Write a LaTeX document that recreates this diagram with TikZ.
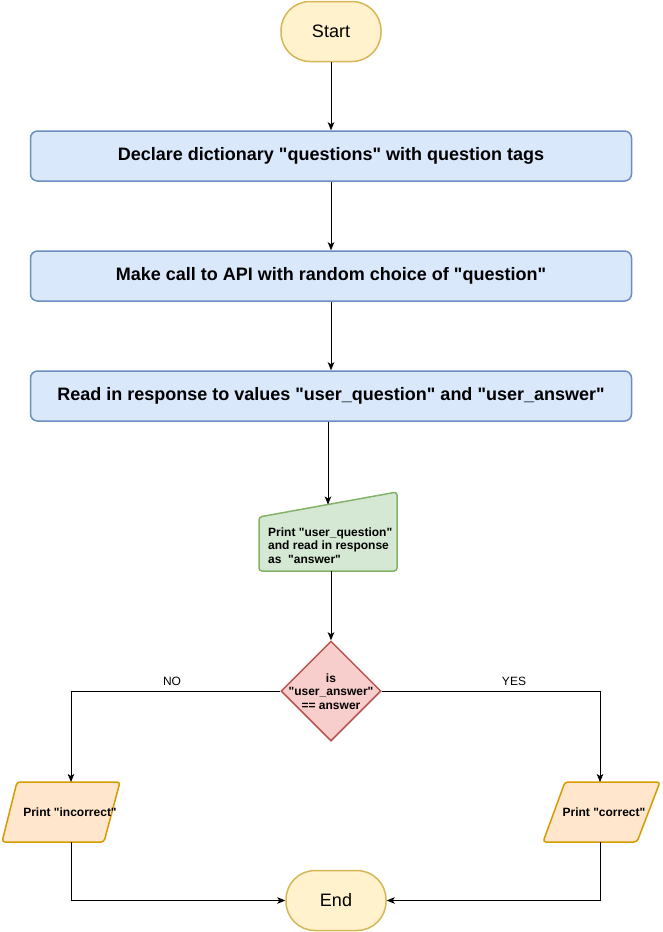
\documentclass[tikz,border=0pt]{standalone}
\usepackage{fontspec}
\setmainfont{Liberation Sans}[Ligatures=TeXOff]
\usetikzlibrary{arrows.meta,shapes.geometric}
\definecolor{yfill}{HTML}{FFF2CC}\definecolor{ydraw}{HTML}{D6B656}
\definecolor{bfill}{HTML}{DAE8FC}\definecolor{bdraw}{HTML}{6C8EBF}
\definecolor{gfill}{HTML}{D5E8D4}\definecolor{gdraw}{HTML}{82B366}
\definecolor{rfill}{HTML}{F8CECC}\definecolor{rdraw}{HTML}{B85450}
\definecolor{ofill}{HTML}{FFE6CC}\definecolor{odraw}{HTML}{D79B00}
\begin{document}
\begin{tikzpicture}[x=1pt,y=-1pt,
  term/.style={rectangle, rounded corners=29pt, minimum width=100pt, minimum height=60pt,
    fill=yfill, draw=ydraw, line width=1.5pt, inner sep=0pt, font=\fontsize{18}{21}\selectfont},
  procbox/.style={rectangle, rounded corners=7pt, minimum width=601pt, minimum height=50pt,
    fill=bfill, draw=bdraw, line width=1.5pt, inner sep=0pt, font=\fontsize{18}{21}\selectfont\bfseries},
  smalltxt/.style={inner sep=0pt, font=\fontsize{12}{13.4}\selectfont\bfseries},
  lbl/.style={inner sep=0pt, font=\fontsize{12}{14}\selectfont},
  conn/.style={draw=black, line width=0.9pt, -{Stealth[length=8pt,width=6.5pt,inset=2pt]}}]
\useasboundingbox (0,0) rectangle (662,932);

% terminals and process boxes
\node[term] (start) at (331,31.5) {Start};
\node[procbox] (box1) at (331,156) {Declare dictionary "questions" with question tags};
\node[procbox] (box2) at (331,276) {Make call to API with random choice of "question"};
\node[procbox] (box3) at (331,396) {Read in response to values "user\_question" and "user\_answer"};

% manual input
\path[draw=gdraw, fill=gfill, line width=1.5pt, rounded corners=3pt]
  (259,517) -- (397,492) -- (397,571) -- (259,571) -- cycle;
\node[smalltxt, anchor=west, align=left] (mi) at (268,545.5)
  {Print "user\_question"\\and read in response\\as\ \ "answer"};
\coordinate (mitop) at (328,504.5);
\coordinate (mibot) at (331,571);

% decision
\node[diamond, minimum width=100pt, minimum height=100pt, inner sep=0pt,
  fill=rfill, draw=rdraw, line width=1.5pt] (dec) at (331,691) {};
\node[smalltxt, align=center] (dectxt) at (331,691.5) {is\\"user\_answer"\\== answer};

% outputs
\path[draw=odraw, fill=ofill, line width=1.5pt, rounded corners=3pt]
  (17,782) -- (120,782) -- (104,842) -- (2,842) -- cycle;
\node[smalltxt] (inc) at (70,812) {Print "incorrect"};
\coordinate (inctop) at (71,782);
\coordinate (incbot) at (71,842);

\path[draw=odraw, fill=ofill, line width=1.5pt, rounded corners=3pt]
  (565,782) -- (660,782) -- (637,842) -- (543,842) -- cycle;
\node[smalltxt] (cor) at (604,812) {Print "correct"};
\coordinate (cortop) at (600,782);
\coordinate (corbot) at (600,842);

\node[term] (end) at (336,900.5) {End};

% connectors
\draw[conn] (start.south) -- (box1.north);
\draw[conn] (box1.south) -- (box2.north);
\draw[conn] (box2.south) -- (box3.north);
\draw[conn] ([xshift=-3pt]box3.south) -- (mitop);
\draw[conn] (mibot) -- (dec.north);
\draw[conn] (dec.west) -| (inctop);
\draw[conn] (dec.east) -| (cortop);
\draw[conn] (incbot) |- (end.west);
\draw[conn] (corbot) |- (end.east);

\node[lbl] (no) at (172,681) {NO};
\node[lbl] (yes) at (514,681) {YES};
\end{tikzpicture}
\end{document}
